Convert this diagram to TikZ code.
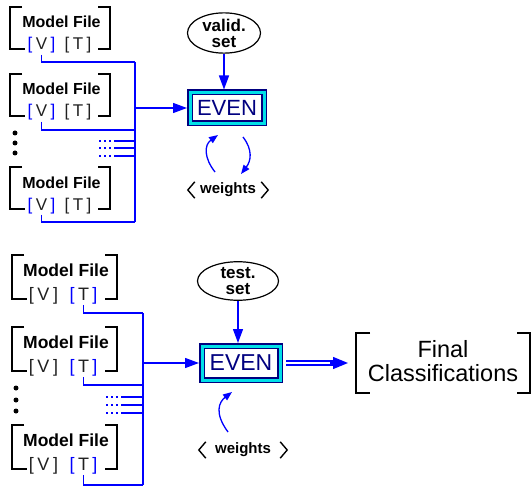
\documentclass[tikz,border=0pt]{standalone}
\usepackage{fontspec}
\setmainfont{Liberation Sans}
\usetikzlibrary{arrows.meta,shapes.geometric}

\definecolor{evnavy}{HTML}{000080}
\definecolor{evcyan}{HTML}{00E0E8}
\definecolor{wire}{HTML}{0000FF}
\definecolor{dgray}{HTML}{202020}

\newcommand\setfs[1]{\fontsize{#1pt}{#1pt}\selectfont}
% one "[ X ]" group with coloured brackets
\newcommand\grp[2]{\textcolor{#1}{[}\hspace{3.5pt}#2\hspace{3.5pt}\textcolor{#1}{]}}

\tikzset{
  wire/.style={draw=wire, line width=1.3pt},
  arr/.style={wire, -{Triangle[length=14pt,width=10pt]}},
  carr/.style={wire, -{Triangle[length=9pt,width=7pt]}},
  brk/.style={draw=black, line width=1.5pt},
  mfframe/.style={rectangle, inner sep=0pt, outer sep=0pt},
  evenbox/.style={rectangle, draw=evnavy, double=evcyan, double distance=3pt,
    line width=1.5pt, fill=white, inner sep=0pt, outer sep=3pt, text=evnavy},
  dataset/.style={ellipse, draw=black, line width=1.2pt, inner sep=0pt,
    align=center, font=\bfseries\setfs{17}},
  wts/.style={rectangle, inner sep=0pt, minimum height=16pt, font=\bfseries\setfs{15}},
  angle/.style={draw=black, line width=1.4pt},
  dotline/.style={wire, dash pattern=on 2pt off 3pt},
  bigdot/.style={fill=black},
}

% #1 name, #2/#3 centre, #4 width, #5 height, #6 colour of V group,
% #7 colour of T group, #8 x offset of T group, #9 offset of V group
\newcommand\modelfile[9]{%
  \node[mfframe, minimum width=#4pt, minimum height=#5pt] (#1) at (#2,#3) {};
  \draw[brk] ([xshift=12pt]#1.north west) -- (#1.north west) -- (#1.south west) -- ([xshift=15pt]#1.south west);
  \draw[brk] ([xshift=-12pt]#1.north east) -- (#1.north east) -- (#1.south east) -- ([xshift=-12pt]#1.south east);
  \node[anchor=base, inner sep=0pt, mftitlefont] (#1-title) at ([xshift=1.5pt, yshift=-21pt]#1.north) {Model File};
  \node[anchor=base, inner sep=1pt, mfgrpfont] (#1-v) at ([xshift=#9pt, yshift=-1pt]#1.south west) {\grp{#6}{V}};
  \node[anchor=base, inner sep=1pt, mfgrpfont] (#1-t) at ([xshift=#8pt, yshift=-1pt]#1.south west) {\grp{#7}{T}};
}

% angle brackets around a weights node
\newcommand\anglebrackets[1]{%
  \draw[angle] ([xshift=7pt]#1.north west) -- (#1.west) -- ([xshift=7pt]#1.south west);
  \draw[angle] ([xshift=-7pt]#1.north east) -- (#1.east) -- ([xshift=-7pt]#1.south east);
}

\begin{document}
\begin{tikzpicture}[x=1pt,y=-1pt]
\useasboundingbox (0,0) rectangle (531,487);

% ---------------- validation stage ----------------
\begin{scope}[mftitlefont/.style={font=\bfseries\setfs{16}},
              mfgrpfont/.style={font=\setfs{17}, text=dgray}]
  \modelfile{m1}{60}{28}{100}{42}{wire}{dgray}{68}{31.5}
  \modelfile{m2}{60}{95}{100}{42}{wire}{dgray}{68}{31.5}
  \modelfile{m3}{60}{188}{100}{42}{wire}{dgray}{68}{31.5}
\end{scope}

\fill[bigdot] (15,133) circle (2.5) (15,143) circle (2.5) (15,153) circle (2.5);

\coordinate (ja) at (135,62);
\coordinate (jb) at (135,130);
\coordinate (jc) at (135,222);
\coordinate (tapa) at (135,108);
\draw[wire] (m1-v.south) |- (ja);
\draw[wire] (m2-v.south) |- (jb);
\draw[wire] (m3-v.south) |- (jc);
\draw[wire] (ja) -- (jc);

\foreach \yy [count=\i] in {141,148,156} {
  \coordinate (da\i) at (99,\yy);
  \coordinate (sa\i) at (114,\yy);
  \coordinate (ea\i) at (135,\yy);
  \draw[dotline] (da\i) -- (sa\i);
  \draw[wire] (sa\i) -- (ea\i);
}

\node[evenbox, minimum width=74pt, minimum height=31pt, font=\setfs{22}] (even1) at (227,108) {EVEN};
\node[dataset, minimum width=73pt, minimum height=35pt] (val) at (224,33) {valid.\\[-1pt]set};
\draw[arr] (tapa) -- (even1.west);
\draw[arr] (val.south) -- (val.south |- even1.north);

\node[wts, minimum width=80pt] (w1) at (228,190) {weights};
\anglebrackets{w1}

\coordinate (cla) at (215,172);
\coordinate (clb) at (218,135);
\coordinate (cra) at (243,137);
\coordinate (crb) at (241,174);
\draw[carr] (cla) .. controls (204,158) and (204,145) .. (clb);
\draw[carr] (cra) .. controls (253,150) and (251,161) .. (crb);

% ---------------- test stage ----------------
\begin{scope}[mftitlefont/.style={font=\bfseries\setfs{17.5}},
              mfgrpfont/.style={font=\setfs{18}, text=dgray}]
  \modelfile{b1}{64.5}{277}{105}{44}{dgray}{wire}{71.5}{31.5}
  \modelfile{b2}{64.5}{349}{105}{44}{dgray}{wire}{71.5}{31.5}
  \modelfile{b3}{64.5}{447}{105}{44}{dgray}{wire}{71.5}{31.5}
\end{scope}

\fill[bigdot] (16,388) circle (2.5) (16,400) circle (2.5) (16,411) circle (2.5);

\coordinate (jd) at (143,313);
\coordinate (je) at (143,385);
\coordinate (jf) at (143,485);
\coordinate (tapb) at (143,363);
\draw[wire] (b1-t.south) |- (jd);
\draw[wire] (b2-t.south) |- (je);
\draw[wire] (b3-t.south) |- (jf);
\draw[wire] (jd) -- (jf);

\foreach \yy [count=\i] in {397,405,413} {
  \coordinate (db\i) at (106,\yy);
  \coordinate (sb\i) at (121,\yy);
  \coordinate (eb\i) at (143,\yy);
  \draw[dotline] (db\i) -- (sb\i);
  \draw[wire] (sb\i) -- (eb\i);
}

\node[evenbox, minimum width=78pt, minimum height=34pt, font=\setfs{23}] (even2) at (241,363) {EVEN};
\node[dataset, minimum width=81pt, minimum height=33pt] (tst) at (238,281) {test.\\[-1pt]set};
\draw[arr] (tapb) -- (even2.west);
\draw[arr] (tst.south) -- (tst.south |- even2.north);

\node[wts, minimum width=88pt] (w2) at (243,450) {weights};
\anglebrackets{w2}

\coordinate (cba) at (228,432);
\coordinate (cbb) at (232,392);
\draw[carr] (cba) .. controls (214,413) and (219,402) .. (cbb);

% final classifications
\node[mfframe, minimum width=174pt, minimum height=60pt] (fin) at (443,363) {};
\draw[brk] ([xshift=14pt]fin.north west) -- (fin.north west) -- (fin.south west) -- ([xshift=14pt]fin.south west);
\draw[brk] ([xshift=-13pt]fin.north east) -- (fin.north east) -- (fin.south east) -- ([xshift=-13pt]fin.south east);
\node[align=center, inner sep=0pt, font=\setfs{23.5}] (fintext) at ([yshift=2pt]fin.center)
  {Final\\[0.5pt]Classifications};

\draw[wire, double=white, double distance=2.8pt, line width=1.4pt, shorten <=3pt, shorten >=21pt]
  (even2.east) -- (fin.west);
\coordinate (tipstart) at (330,363);
\draw[wire, -{Triangle[length=15pt,width=12pt]}, shorten >=8pt] (tipstart) -- (fin.west);
\end{tikzpicture}
\end{document}
